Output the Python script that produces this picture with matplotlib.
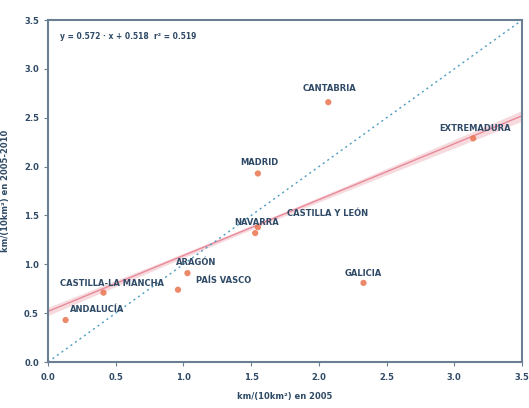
import numpy as np
import matplotlib
matplotlib.use("Agg")
import matplotlib.pyplot as plt

regions = ["ANDALUCÍA", "CASTILLA-LA MANCHA", "PAÍS VASCO", "ARAGÓN", "NAVARRA",
           "CASTILLA Y LEÓN", "MADRID", "CANTABRIA", "GALICIA", "EXTREMADURA"]
x_vals = [0.13, 0.41, 0.96, 1.03, 1.53, 1.55, 1.55, 2.07, 2.33, 3.14]
y_vals = [0.43, 0.71, 0.74, 0.91, 1.32, 1.38, 1.93, 2.66, 0.81, 2.29]
label_offsets = [(32, 11), (8, 9), (46, 9), (9, 11), (1, 11),
                 (70, 14), (1, 11), (1, 14), (0, 9), (2, 10)]
slope, intercept, r2 = 0.572, 0.518, 0.519
ticks = [0.0, 0.5, 1.0, 1.5, 2.0, 2.5, 3.0, 3.5]
xlabel = "km/(10km²) en 2005"
ylabel = "km/(10km²) en 2005-2010"

text_c = "#2f4a66"
spine_c = "#6b7f92"
mark_c = "#e8744f"
line_c = "#e88a9a"

fig = plt.figure(figsize=(5.29, 4.08), dpi=100)
ax = fig.add_axes([0.0907, 0.1127, 0.896, 0.838])

xs = np.array(x_vals)
ys = np.array(y_vals)
n = len(xs)
xx = np.linspace(0, 3.5, 200)
fit = slope * xx + intercept
resid = ys - (slope * xs + intercept)
s = np.sqrt(np.sum(resid ** 2) / (n - 2))
se = s * np.sqrt(1 / n + (xx - xs.mean()) ** 2 / np.sum((xs - xs.mean()) ** 2))
ax.fill_between(xx, fit - 0.12 * se, fit + 0.12 * se, color="#f7dade", lw=0, zorder=1)
ax.plot(xx, fit, color=line_c, lw=1.0, zorder=2)
ax.plot([0, 3.5], [0, 3.5], color="#4f9cc0", lw=1.0, ls=(0, (1.5, 2.5)), zorder=2)

ax.scatter(xs, ys, s=20, color=mark_c, edgecolor="none", zorder=3, alpha=0.85)
for name, xv, yv, off in zip(regions, x_vals, y_vals, label_offsets):
    ax.annotate(name, (xv, yv), xytext=off, textcoords="offset pixels",
                ha="center", va="center", fontsize=6, color=text_c,
                fontweight="semibold", zorder=4)

ax.text(0.025, 0.965, f"y = {slope:.3f} · x + {intercept:.3f}  r² = {r2:.3f}",
        transform=ax.transAxes, fontsize=5.5, color=text_c, va="top", ha="left",
        fontweight="semibold")

ax.set_xlim(0, 3.5)
ax.set_ylim(0, 3.5)
ax.set_xticks(ticks)
ax.set_yticks(ticks)
ax.set_xticklabels([f"{t:.1f}" for t in ticks], fontweight="semibold")
ax.set_yticklabels([f"{t:.1f}" for t in ticks], fontweight="semibold")
ax.tick_params(labelsize=6, colors=spine_c, labelcolor=text_c, length=3, width=0.8)
ax.tick_params(axis="x", pad=5)
for sp in ax.spines.values():
    sp.set_color(spine_c)
    sp.set_linewidth(1.5)
ax.set_xlabel(xlabel, fontsize=6, color=text_c, labelpad=7, fontweight="semibold")
ax.set_ylabel(ylabel, fontsize=6, color=text_c, labelpad=10, fontweight="semibold")

fig.savefig("out.png", dpi=100)
